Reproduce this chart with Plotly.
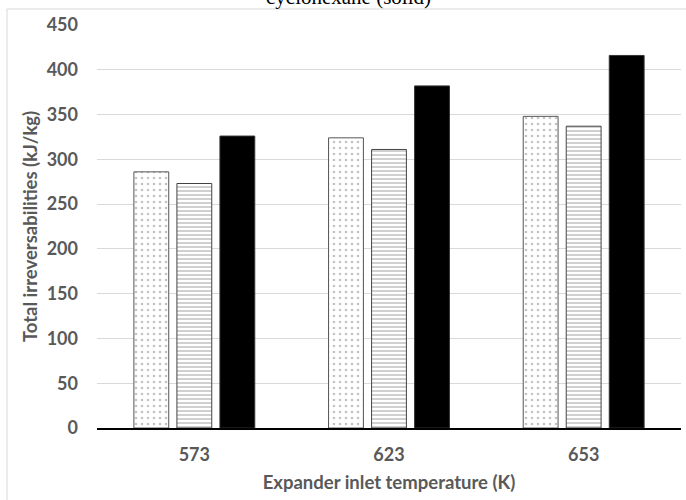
import plotly.graph_objects as go

categories = ["573", "623", "653"]
series_a = [286, 324, 348]
series_b = [273, 311, 337]
series_c = [326, 382, 416]
y_ticks = [0, 50, 100, 150, 200, 250, 300, 350, 400, 450]

font_fam = "Lato, 'Open Sans', sans-serif"
gray = "#595959"

fig = go.Figure()
fig.add_trace(go.Bar(
    x=categories, y=series_a, name="A",
    marker=dict(color="white", line=dict(color="#555555", width=1),
                pattern=dict(shape=".", fgcolor="#888888", bgcolor="white",
                             size=6, solidity=0.15)),
))
fig.add_trace(go.Bar(
    x=categories, y=series_b, name="B",
    marker=dict(color="white", line=dict(color="#444444", width=1),
                pattern=dict(shape="-", fgcolor="#8a8a8a", bgcolor="white",
                             size=4, solidity=0.4)),
))
fig.add_trace(go.Bar(
    x=categories, y=series_c, name="C",
    marker=dict(color="black", line=dict(color="#333333", width=1)),
))

fig.update_layout(
    width=686, height=500,
    margin=dict(l=97, r=5, t=25, b=72),
    paper_bgcolor="white", plot_bgcolor="white",
    barmode="group", bargap=0.337, bargroupgap=0.19,
    showlegend=False,
    font=dict(family=font_fam, color=gray),
)
fig.update_yaxes(
    range=[0, 450], tickvals=y_ticks, showgrid=True, gridcolor="#d9d9d9",
    gridwidth=1, zeroline=False, showline=False, ticks="",
    tickfont=dict(family=font_fam, size=18, color=gray, weight="bold"),
    ticklabelstandoff=18,
    title=dict(text="<b>Total irreversabilities (kJ/kg)</b>", standoff=4,
               font=dict(family=font_fam, size=18.5, color=gray)),
)
fig.update_xaxes(
    showline=True, linecolor="black", linewidth=2, ticks="",
    tickfont=dict(family=font_fam, size=18, color=gray, weight="bold"),
    ticklabelstandoff=9,
    title=dict(text="<b>Expander inlet temperature (K)</b>", standoff=12,
               font=dict(family=font_fam, size=18.5, color=gray)),
)

# outer chart frame
fig.add_shape(type="rect", xref="paper", yref="paper",
              x0=(7 - 97) / 584, x1=1.2, y0=-0.5, y1=(428 - 9) / 403,
              line=dict(color="#d9d9d9", width=1), layer="below")

# title (partially clipped at top, as in reference)
fig.add_annotation(text="cyclohexane (solid)", xref="paper", yref="paper",
                   x=(348 - 97) / 584, y=(428 + 3) / 403, xanchor="center",
                   yanchor="middle", showarrow=False,
                   font=dict(family="Liberation Serif, Times New Roman, serif",
                             size=21, color="black"))

fig.write_html("out.html")
